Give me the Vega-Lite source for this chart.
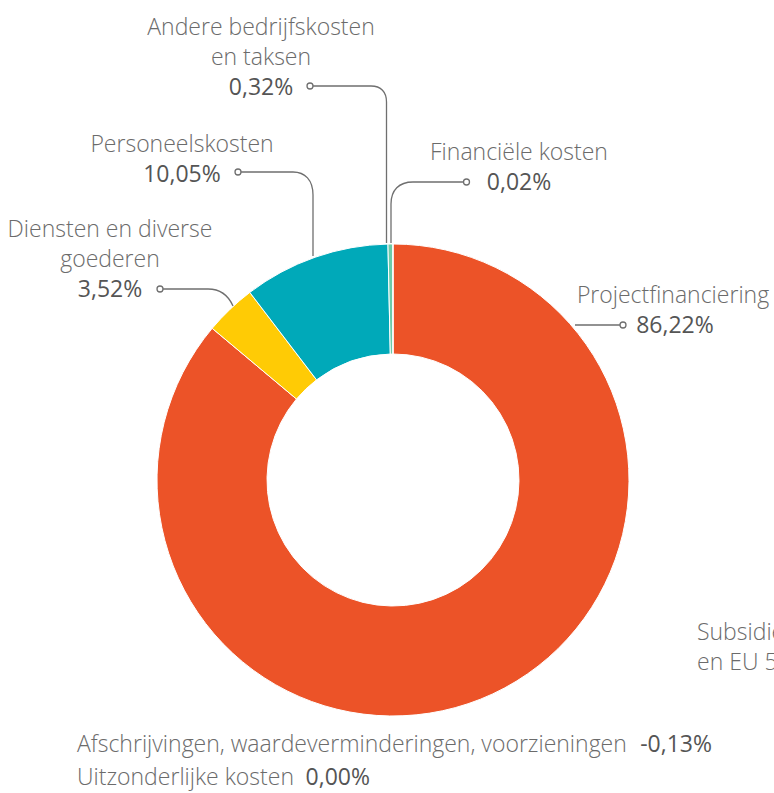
{
  "$schema": "https://vega.github.io/schema/vega-lite/v6.json",
  "width": 762,
  "height": 626,
  "autosize": {"type": "none"},
  "padding": {"left": 12, "top": 167, "right": 0, "bottom": 0},
  "background": "white",
  "config": {
    "view": {"stroke": null},
    "text": {"font": "Open Sans", "fontSize": 23},
    "locale": {"number": {"decimal": ",", "thousands": ".", "grouping": [3], "currency": ["€", ""], "minus": "-"}}
  },
  "data": {
    "values": [
      {"nr": 1, "post": "Projectfinanciering", "label": "Projectfinanciering", "aandeel": 0.8622},
      {"nr": 2, "post": "Diensten en diverse goederen", "label": "Diensten en diverse\ngoederen", "aandeel": 0.0352},
      {"nr": 3, "post": "Personeelskosten", "label": "Personeelskosten", "aandeel": 0.1005},
      {"nr": 4, "post": "Andere bedrijfskosten en taksen", "label": "Andere bedrijfskosten\nen taksen", "aandeel": 0.0032},
      {"nr": 5, "post": "Financiële kosten", "label": "Financiële kosten", "aandeel": 0.0002},
      {"nr": 6, "post": "Afschrijvingen, waardeverminderingen, voorzieningen", "label": "Afschrijvingen, waardeverminderingen, voorzieningen", "aandeel": -0.0013},
      {"nr": 7, "post": "Uitzonderlijke kosten", "label": "Uitzonderlijke kosten", "aandeel": 0}
    ]
  },
  "layer": [
    {
      "transform": [{"filter": "datum.nr <= 5"}],
      "mark": {"type": "arc", "innerRadius": 126, "outerRadius": 236, "stroke": "white", "strokeWidth": 1},
      "encoding": {
        "theta": {"field": "aandeel", "type": "quantitative", "stack": true},
        "order": {"field": "nr", "type": "quantitative"},
        "color": {
          "field": "post",
          "type": "nominal",
          "scale": {
            "domain": ["Projectfinanciering", "Diensten en diverse goederen", "Personeelskosten", "Andere bedrijfskosten en taksen", "Financiële kosten"],
            "range": ["#EC5328", "#FFCB05", "#00A9B9", "#6CCBA8", "#1B5276"]
          },
          "legend": null
        }
      }
    },
    {
      "transform": [{"filter": "datum.nr <= 5"}],
      "mark": {"type": "point", "size": 4, "filled": false, "stroke": "#6f6f6f", "strokeWidth": 1.3, "opacity": 1},
      "encoding": {
        "shape": {
          "field": "post",
          "type": "nominal",
          "scale": {
            "domain": ["Projectfinanciering", "Diensten en diverse goederen", "Personeelskosten", "Andere bedrijfskosten en taksen", "Financiële kosten"],
            "range": [
              "M 227,-155 L 182,-155 M 227,-155 A 3,3 0 1,0 233,-155 A 3,3 0 1,0 227,-155",
              "M -230,-191 L -185,-191 C -172,-191 -164,-183 -160,-174 M -236,-191 A 3,3 0 1,0 -230,-191 A 3,3 0 1,0 -236,-191",
              "M -152,-308 L -100,-308 C -88,-308 -80,-300 -80,-285 L -80,-224 M -158,-308 A 3,3 0 1,0 -152,-308 A 3,3 0 1,0 -158,-308",
              "M -80,-394 L -22,-394 C -12,-394 -6.5,-388 -6.5,-378 L -6.5,-237 M -86,-394 A 3,3 0 1,0 -80,-394 A 3,3 0 1,0 -86,-394",
              "M 70.5,-298 L 20,-298 C 6,-298 -2,-290 -2,-276 L -2,-237 M 70.5,-298 A 3,3 0 1,0 76.5,-298 A 3,3 0 1,0 70.5,-298"
            ]
          },
          "legend": null
        }
      }
    },
    {
      "transform": [{"filter": "datum.nr == 1"}],
      "mark": {"type": "text", "align": "center", "baseline": "alphabetic", "dx": 280, "dy": -177, "fontWeight": 300, "color": "#6b6b6b"},
      "encoding": {"text": {"field": "label"}}
    },
    {
      "transform": [{"filter": "datum.nr == 1"}],
      "mark": {"type": "text", "align": "center", "baseline": "alphabetic", "dx": 282, "dy": -147, "fontWeight": 400, "color": "#555555"},
      "encoding": {"text": {"field": "aandeel", "type": "quantitative", "format": ".2%"}}
    },
    {
      "transform": [{"filter": "datum.nr == 2"}],
      "mark": {"type": "text", "align": "center", "baseline": "alphabetic", "dx": -283, "dy": -243, "lineBreak": "\n", "lineHeight": 30, "fontWeight": 300, "color": "#6b6b6b"},
      "encoding": {"text": {"field": "label"}}
    },
    {
      "transform": [{"filter": "datum.nr == 2"}],
      "mark": {"type": "text", "align": "center", "baseline": "alphabetic", "dx": -283, "dy": -183, "fontWeight": 400, "color": "#555555"},
      "encoding": {"text": {"field": "aandeel", "type": "quantitative", "format": ".2%"}}
    },
    {
      "transform": [{"filter": "datum.nr == 3"}],
      "mark": {"type": "text", "align": "center", "baseline": "alphabetic", "dx": -211, "dy": -328, "fontWeight": 300, "color": "#6b6b6b"},
      "encoding": {"text": {"field": "label"}}
    },
    {
      "transform": [{"filter": "datum.nr == 3"}],
      "mark": {"type": "text", "align": "center", "baseline": "alphabetic", "dx": -211, "dy": -298, "fontWeight": 400, "color": "#555555"},
      "encoding": {"text": {"field": "aandeel", "type": "quantitative", "format": ".2%"}}
    },
    {
      "transform": [{"filter": "datum.nr == 4"}],
      "mark": {"type": "text", "align": "center", "baseline": "alphabetic", "dx": -132, "dy": -445, "lineBreak": "\n", "lineHeight": 30, "fontWeight": 300, "color": "#6b6b6b"},
      "encoding": {"text": {"field": "label"}}
    },
    {
      "transform": [{"filter": "datum.nr == 4"}],
      "mark": {"type": "text", "align": "center", "baseline": "alphabetic", "dx": -132, "dy": -385, "fontWeight": 400, "color": "#555555"},
      "encoding": {"text": {"field": "aandeel", "type": "quantitative", "format": ".2%"}}
    },
    {
      "transform": [{"filter": "datum.nr == 5"}],
      "mark": {"type": "text", "align": "center", "baseline": "alphabetic", "dx": 126, "dy": -320, "fontWeight": 300, "color": "#6b6b6b"},
      "encoding": {"text": {"field": "label"}}
    },
    {
      "transform": [{"filter": "datum.nr == 5"}],
      "mark": {"type": "text", "align": "center", "baseline": "alphabetic", "dx": 126, "dy": -290, "fontWeight": 400, "color": "#555555"},
      "encoding": {"text": {"field": "aandeel", "type": "quantitative", "format": ".2%"}}
    },
    {
      "transform": [{"filter": "datum.nr == 6"}],
      "mark": {"type": "text", "align": "left", "baseline": "alphabetic", "dx": -316, "dy": 272, "fontWeight": 300, "color": "#6b6b6b"},
      "encoding": {"text": {"field": "label"}}
    },
    {
      "transform": [{"filter": "datum.nr == 6"}],
      "mark": {"type": "text", "align": "right", "baseline": "alphabetic", "dx": 319, "dy": 272, "fontWeight": 400, "color": "#555555"},
      "encoding": {"text": {"field": "aandeel", "type": "quantitative", "format": ".2%"}}
    },
    {
      "transform": [{"filter": "datum.nr == 7"}],
      "mark": {"type": "text", "align": "left", "baseline": "alphabetic", "dx": -316, "dy": 305, "fontWeight": 300, "color": "#6b6b6b"},
      "encoding": {"text": {"field": "label"}}
    },
    {
      "transform": [{"filter": "datum.nr == 7"}],
      "mark": {"type": "text", "align": "right", "baseline": "alphabetic", "dx": -23, "dy": 305, "fontWeight": 400, "color": "#555555"},
      "encoding": {"text": {"field": "aandeel", "type": "quantitative", "format": ".2%"}}
    },
    {
      "data": {"values": [{"label": "Subsidies\nen EU 5"}]},
      "mark": {"type": "text", "align": "left", "baseline": "alphabetic", "dx": 304, "dy": 160, "lineBreak": "\n", "lineHeight": 30, "fontWeight": 300, "color": "#6b6b6b"},
      "encoding": {"text": {"field": "label"}}
    }
  ]
}
